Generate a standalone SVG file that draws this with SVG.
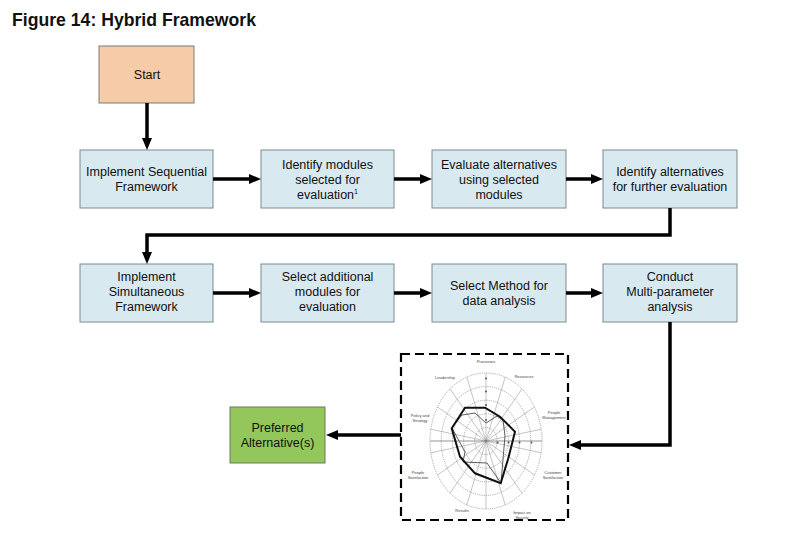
<svg xmlns="http://www.w3.org/2000/svg" width="802" height="543" viewBox="0 0 802 543">
<defs>
<marker id="ah" markerUnits="userSpaceOnUse" markerWidth="13" markerHeight="11" refX="7" refY="5" orient="auto">
<path d="M0,0 L12,5 L0,10 z" fill="#000"/>
</marker>
<style>
.box{fill:#d8e9f0;stroke:#7a8a90;stroke-width:1}
.t{font-family:"Liberation Sans",Arial,sans-serif;font-size:12.5px;fill:#111;text-anchor:middle}
.c{fill:none;stroke:#000;stroke-width:3.5;marker-end:url(#ah)}
.ring{fill:none;stroke:#777;stroke-width:0.6;stroke-dasharray:1.2 1}
.ray{stroke:#888;stroke-width:0.5}
.lb{font-family:"Liberation Sans",Arial,sans-serif;font-size:4px;fill:#444;text-anchor:middle}
</style>
</defs>
<rect width="802" height="543" fill="#fff"/>
<text x="12" y="26" font-family="'Liberation Sans',Arial,sans-serif" font-weight="bold" font-size="19" textLength="244" lengthAdjust="spacingAndGlyphs" fill="#111">Figure 14: Hybrid Framework</text>

<g id="start"><rect x="99" y="46" width="95" height="57" fill="#f5cba8" stroke="#7a7a7a" stroke-width="1"/><text class="t" x="147" y="78.5">Start</text></g>

<g id="n1"><rect class="box" x="80" y="150" width="133" height="58"/><text class="t" x="146.5" y="176">Implement Sequential</text><text class="t" x="146.5" y="191">Framework</text></g>
<g id="n2"><rect class="box" x="261" y="150" width="133" height="58"/><text class="t" x="327.5" y="168.5">Identify modules</text><text class="t" x="327.5" y="183.5">selected for</text><text class="t" x="327.5" y="198.5">evaluation<tspan font-size="7" dy="-5">1</tspan></text></g>
<g id="n3"><rect class="box" x="432" y="150" width="134" height="58"/><text class="t" x="499" y="168.5">Evaluate alternatives</text><text class="t" x="499" y="183.5">using selected</text><text class="t" x="499" y="198.5">modules</text></g>
<g id="n4"><rect class="box" x="603" y="150" width="134" height="58"/><text class="t" x="670" y="176">Identify alternatives</text><text class="t" x="670" y="191">for further evaluation</text></g>

<g id="n5"><rect class="box" x="80" y="264" width="133" height="58"/><text class="t" x="146.5" y="281">Implement</text><text class="t" x="146.5" y="296">Simultaneous</text><text class="t" x="146.5" y="311">Framework</text></g>
<g id="n6"><rect class="box" x="261" y="264" width="133" height="58"/><text class="t" x="327.5" y="281">Select additional</text><text class="t" x="327.5" y="296">modules for</text><text class="t" x="327.5" y="311">evaluation</text></g>
<g id="n7"><rect class="box" x="432" y="264" width="134" height="58"/><text class="t" x="499" y="289.5">Select Method for</text><text class="t" x="499" y="304.5">data analysis</text></g>
<g id="n8"><rect class="box" x="603" y="264" width="134" height="58"/><text class="t" x="670" y="281">Conduct</text><text class="t" x="670" y="296">Multi-parameter</text><text class="t" x="670" y="311">analysis</text></g>

<g id="preferred"><rect x="230" y="407" width="95" height="56" fill="#93c75c" stroke="#6a7a60" stroke-width="1"/><text class="t" x="277.5" y="432">Preferred</text><text class="t" x="277.5" y="447">Alternative(s)</text></g>

<g id="chart">
<rect x="401" y="354" width="167" height="166" fill="#fff" stroke="#000" stroke-width="2.2" stroke-dasharray="9 5"/>
<g class="rays">
<line class="ray" x1="486" y1="373" x2="486" y2="509"/>
<line class="ray" x1="505.2" y1="377.1" x2="466.8" y2="504.9"/>
<line class="ray" x1="522" y1="388.9" x2="450" y2="493.1"/>
<line class="ray" x1="534.5" y1="407" x2="437.5" y2="475"/>
<line class="ray" x1="541.2" y1="429.2" x2="430.8" y2="452.8"/>
<line class="ray" x1="541.2" y1="452.8" x2="430.8" y2="429.2"/>
<line class="ray" x1="534.5" y1="475" x2="437.5" y2="407"/>
<line class="ray" x1="522" y1="493.1" x2="450" y2="388.9"/>
<line class="ray" x1="505.2" y1="504.9" x2="466.8" y2="377.1"/>
<line x1="430" y1="441" x2="542" y2="441" stroke="#666" stroke-width="0.7"/>
</g>
<ellipse class="ring" cx="486" cy="441" rx="11.2" ry="13.6"/>
<ellipse class="ring" cx="486" cy="441" rx="22.4" ry="27.2"/>
<ellipse class="ring" cx="486" cy="441" rx="33.6" ry="40.8"/>
<ellipse class="ring" cx="486" cy="441" rx="44.8" ry="54.4"/>
<ellipse class="ring" cx="486" cy="441" rx="56" ry="68"/>
<g fill="#555">
<circle cx="486" cy="378.5" r="1"/><circle cx="486" cy="391.5" r="1"/><circle cx="486" cy="405" r="1"/><circle cx="486" cy="420" r="1"/>
<circle cx="497.5" cy="442.5" r="1"/><circle cx="508.5" cy="442.5" r="1"/><circle cx="519.5" cy="442.5" r="1"/><circle cx="531.5" cy="442.5" r="1"/>
</g>
<polygon points="462,415 475,413 486,423 497,416 503,420 505,436 501,483 487,463 463,462 465,452 452,428" fill="none" stroke="#333" stroke-width="0.8"/>
<polygon points="465,407.7 485,407.7 500,416.7 515,431.7 508.3,458.3 500.7,483.3 475,473.3 460,456.7 451.7,428.3" fill="none" stroke="#111" stroke-width="2"/>
<text class="lb" x="486" y="363">Processes</text>
<text class="lb" x="524" y="378">Resources</text>
<text class="lb" x="554" y="414">People</text><text class="lb" x="554" y="418.5">Management</text>
<text class="lb" x="553" y="474">Customer</text><text class="lb" x="553" y="478.5">Satisfaction</text>
<text class="lb" x="522" y="514">Impact on</text><text class="lb" x="522" y="518.5">Society</text>
<text class="lb" x="462" y="512">Results</text>
<text class="lb" x="418" y="474">People</text><text class="lb" x="418" y="478.5">Satisfaction</text>
<text class="lb" x="420" y="417">Policy and</text><text class="lb" x="420" y="421.5">Strategy</text>
<text class="lb" x="445" y="379">Leadership</text>
</g>

<g id="connectors">
<path class="c" d="M147 103 V145"/>
<path class="c" d="M213 179 H256"/>
<path class="c" d="M394 179 H427"/>
<path class="c" d="M566 179 H598"/>
<path class="c" d="M670 208 V235 H147 V259"/>
<path class="c" d="M213 293 H256"/>
<path class="c" d="M394 293 H427"/>
<path class="c" d="M566 293 H598"/>
<path class="c" d="M670 322 V445 H574"/>
<path class="c" d="M401 435 H331"/>
</g>
</svg>
